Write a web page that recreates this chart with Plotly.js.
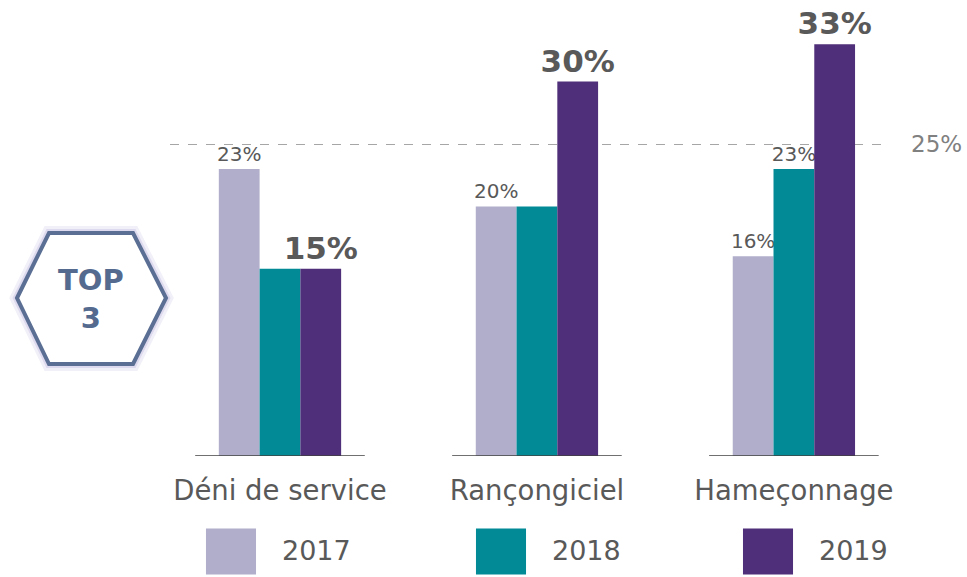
<!DOCTYPE html>
<html>
<head>
<meta charset="utf-8">
<script src="https://cdn.plot.ly/plotly-3.0.1.min.js"></script>
<style>html,body{margin:0;padding:0;background:#fff;}#chart{width:967px;height:577px;}</style>
</head>
<body>
<div id="chart"></div>
<script>
// ---- data ----
const categories = ['Déni de service', 'Rançongiciel', 'Hameçonnage'];
const years = ['2017', '2018', '2019'];
const values2017 = [23, 20, 16];
const values2018 = [15, 20, 23];
const values2019 = [15, 30, 33];
const labels2017 = ['23%', '20%', '16%'];
const labels2018 = ['', '', '23%'];
const labels2019 = ['15%', '30%', '33%'];
const yTickVals = [0, 25];
const yTickText = ['', '25%'];
const badgeText = 'TOP<br>3';

// ---- layout constants ----
const W = 967, H = 577;
const mL = 170, mR = 77, mT = 0, mB = 121;
const plotW = W - mL - mR, plotH = H - mT - mB;
const px2x = px => (px - mL) / plotW;
const px2y = py => (H - mB - py) / plotH;

const colors = ['#b0aecb', '#028a97', '#4f2f79'];
const textGrey = '#595959';

const hexPts = [[17,298],[49,233],[133,233],[166,298],[133,364],[49,364]];
const hexPath = 'M' + hexPts.map(p => px2x(p[0]).toFixed(5) + ',' + px2y(p[1]).toFixed(5)).join('L') + 'Z';

const legendIds = ['legend', 'legend2', 'legend3'];
const legendOrigins = [180, 450, 717];

const traces = [
  {type:'bar', name: years[0], legend: legendIds[0], x: categories, y: values2017, text: labels2017,
   marker:{color: colors[0]}, textposition:'outside', cliponaxis:false, constraintext:'none',
   textfont:{family:'DejaVu Sans', size:20, color:textGrey}, hoverinfo:'none'},
  {type:'bar', name: years[1], legend: legendIds[1], x: categories, y: values2018, text: labels2018,
   marker:{color: colors[1]}, textposition:'outside', cliponaxis:false, constraintext:'none',
   textfont:{family:'DejaVu Sans', size:20, color:textGrey}, hoverinfo:'none'},
  {type:'bar', name: years[2], legend: legendIds[2], x: categories, y: values2019, text: labels2019,
   marker:{color: colors[2]}, textposition:'outside', cliponaxis:false, constraintext:'none',
   textfont:{family:'DejaVu Sans', size:31, color:textGrey, weight:'bold'}, hoverinfo:'none'}
];

const segShapes = categories.map((c, i) => ({
  type:'line', xref:'x', yref:'y', x0: i - 0.33, x1: i + 0.33, y0: 0, y1: 0,
  line:{color:'#404040', width:1.5}, layer:'above'
}));

const layout = {
  width: W, height: H,
  margin:{l:mL, r:mR, t:mT, b:mB, pad:0},
  paper_bgcolor:'#fff', plot_bgcolor:'#fff',
  barmode:'group', bargap:0.524, bargroupgap:0,
  font:{family:'DejaVu Sans', color:textGrey},
  xaxis:{type:'category', range:[-0.428, 2.374], showgrid:false, zeroline:false, showline:false,
         ticks:'', tickfont:{family:'DejaVu Sans', size:27.5, color:textGrey}, ticklabelstandoff:15, fixedrange:true},
  yaxis:{range:[0, 36.54], side:'right', tickvals:yTickVals, ticktext:yTickText,
         showgrid:true, gridcolor:'#a6a6a6', gridwidth:1, griddash:'dash', zeroline:false, showline:false,
         ticks:'', tickfont:{family:'DejaVu Sans', size:23, color:'#808080'}, ticklabelstandoff:20, fixedrange:true},
  showlegend:true,
  shapes: [
    {type:'path', xref:'paper', yref:'paper', path: hexPath, line:{color:'rgba(175,165,215,0.18)', width:14}, fillcolor:'rgba(0,0,0,0)', layer:'above'},
    {type:'path', xref:'paper', yref:'paper', path: hexPath, line:{color:'rgba(175,165,215,0.3)', width:8}, fillcolor:'rgba(0,0,0,0)', layer:'above'},
    {type:'path', xref:'paper', yref:'paper', path: hexPath, line:{color:'#5b6f94', width:4}, fillcolor:'#ffffff', layer:'above'}
  ].concat(segShapes),
  annotations:[
    {xref:'paper', yref:'paper', x: px2x(91), y: px2y(299), text: badgeText, showarrow:false,
     xanchor:'center', yanchor:'middle', align:'center',
     font:{family:'DejaVu Sans', size:29, color:'#546a8f', weight:'bold'}}
  ]
};
legendIds.forEach((id, i) => {
  layout[id] = {orientation:'h', xref:'container', yref:'container', x: legendOrigins[i]/W, y: (H-550)/H,
    xanchor:'left', yanchor:'middle', itemwidth:92, bgcolor:'rgba(0,0,0,0)', borderwidth:0,
    font:{family:'DejaVu Sans', size:27, color:textGrey}};
});

Plotly.newPlot('chart', traces, layout, {staticPlot:true, displayModeBar:false}).then(gd => {
  gd.querySelectorAll('.legendpoints path').forEach(p => {
    p.setAttribute('transform', 'translate(51,4) scale(4.17,4.17)');
  });
});
</script>
</body>
</html>
